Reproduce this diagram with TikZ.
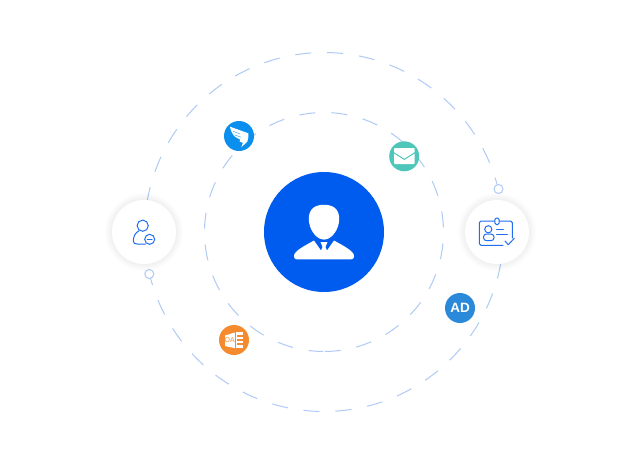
\documentclass[tikz,border=0pt]{standalone}
\usepackage{fontspec}
\setmainfont{Liberation Sans}
\definecolor{ringc}{HTML}{AFCAF6}
\definecolor{coreblue}{HTML}{005CEE}
\definecolor{lineblue}{HTML}{1F6EF2}
\definecolor{dingc}{HTML}{0A8FEE}
\definecolor{mailc}{HTML}{4EC6BA}
\definecolor{officec}{HTML}{F58B2E}
\definecolor{adc}{HTML}{2A8AD9}
\tikzset{
  ring/.style={draw=ringc,line width=1pt,dash pattern=on 16pt off 15.95pt},
  dotc/.style={draw=ringc,line width=1pt,fill=white,circle,minimum size=9pt,inner sep=0pt},
  holder/.style={circle,fill=white,minimum size=64pt,inner sep=0pt},
  badge/.style={circle,minimum size=30pt,inner sep=0pt},
  glyph/.style={draw=lineblue,line width=1pt,line cap=round,line join=round},
}
\begin{document}
\begin{tikzpicture}[x=1pt,y=-1pt]
\useasboundingbox (0,0) rectangle (640,464);
\fill[white] (0,0) rectangle (640,464);
% rings
\draw[ring] plot[domain=-89.7:269.5,samples=361,variable=\a] ({324+119.5*cos(\a)},{232-119.5*sin(\a)});
\draw[ring] plot[domain=170.6:14,samples=200,variable=\a] ({324+179.5*cos(\a)},{232-179.5*sin(\a)});
\draw[ring] plot[domain=-9.85:-166.5,samples=200,variable=\a] ({324+179.5*cos(\a)},{232-179.5*sin(\a)});
\node[dotc] (dotr) at (498.5,189) {};
\node[dotc] (dotl) at (149.3,274) {};
% soft shadows
\foreach \r in {39,38,37,36,35,34,33}{
  \fill[black,opacity=0.007] (144,232) circle[radius=\r];
  \fill[black,opacity=0.007] (497,232) circle[radius=\r];
}
\node[holder] (left) at (144,232) {};
\node[holder] (right) at (497,232) {};
% centre
\node[circle,fill=coreblue,minimum size=120pt,inner sep=0pt] (core) at (324,232) {};
\fill[white] (324,204.8) .. controls (334,204.8) and (339.2,209.5) .. (339.2,219)
  .. controls (339.2,229) and (332,239.6) .. (324,239.6)
  .. controls (316,239.6) and (308.8,229) .. (308.8,219)
  .. controls (308.8,209.5) and (314,204.8) .. (324,204.8) -- cycle;
\fill[white] (297,259.4) .. controls (293.5,259.4) and (293,255) .. (295.5,252.5)
  .. controls (298,249.5) and (303,246.5) .. (314,240.5)
  -- (321,250.5) -- (322.5,247) -- (320.5,242) -- (327.5,242) -- (325.5,247) -- (327,250.5) -- (334,240.5)
  .. controls (345,246.5) and (350,249.5) .. (352.5,252.5)
  .. controls (355,255) and (354.5,259.4) .. (351,259.4) -- cycle;
% left icon
\draw[glyph] (142.7,225.7) circle[radius=5.6];
\draw[glyph] (139,230.8) .. controls (135.5,232.5) and (133.3,236.5) .. (133.3,241)
  .. controls (133.3,243.2) and (135,244) .. (137,244) -- (145.5,244);
\draw[glyph] (149.7,239.3) circle[radius=5];
\draw[glyph] (147.3,239.3) -- (152.1,239.3);
% right icon
\draw[glyph] (503,245.3) -- (481,245.3) .. controls (480,245.3) and (479.3,244.6) .. (479.3,243.6)
  -- (479.3,222.6) .. controls (479.3,221.6) and (480,221) .. (481,221) -- (494.7,221);
\draw[glyph] (499.3,221) -- (510.6,221) .. controls (511.6,221) and (512.3,221.6) .. (512.3,222.6) -- (512.3,238);
\draw[glyph,rounded corners=1.5pt] (494.9,218) rectangle (499.1,224.6);
\draw[glyph] (488.3,229.3) circle[radius=3.6];
\draw[glyph,rounded corners=3pt] (483.5,240.7) rectangle (494,234);
\draw[glyph] (496.7,229.3) -- (503.3,229.3);
\draw[glyph] (496.7,234) -- (507.3,234);
\draw[glyph] (505,241) -- (508.3,244.7) -- (514.3,238.3);
% dingtalk
\node[badge,fill=dingc] (ding) at (239,136) {};
\fill[white] (230,126.7) -- (248.3,133.3) .. controls (248.6,136) and (248.2,139) .. (247.4,141.5)
  -- (245,142) -- (247,141.8) -- (241.4,147.3) -- (242.8,142.8) -- (239.5,141.5) -- (240.3,139.5)
  .. controls (236.5,138) and (233.5,136) .. (232.5,133.5) .. controls (231,131.5) and (230.3,129) .. (230,126.7) -- cycle;
\draw[dingc,line width=0.35pt] (233,131.2) -- (240,134);
\draw[dingc,line width=0.35pt] (234.5,134.8) -- (241,137.2);
% mail
\node[badge,fill=mailc] (mail) at (404.2,156.3) {};
\fill[white,rounded corners=0.8pt] (394,148) rectangle (414.6,164);
\draw[mailc,line width=1pt] (393.6,152.6) -- (404.3,159.4) -- (415,152.6);
\fill[mailc] (393.6,147.6) -- (394.6,147.6) -- (394.2,148.6) -- cycle;
% office
\node[badge,fill=officec] (office) at (234,340) {};
\fill[white] (225,335.5) -- (234.8,332.5) -- (234.8,348.2) -- (225,346) -- cycle;
\node[text=officec,font=\fontsize{7}{7}\selectfont,inner sep=0pt] (oa) at (229.7,340.3) {OA};
\fill[white] (235.6,331.7) rectangle (243,348.3);
\fill[officec] (237.2,335.2) rectangle (243,336.6);
\fill[officec] (237.2,339.2) rectangle (243,340.6);
\fill[officec] (237.2,343.2) rectangle (243,344.6);
% AD
\node[badge,fill=adc,text=white,font=\bfseries\fontsize{13.5}{13.5}\selectfont] (ad) at (460,308) {AD};
\end{tikzpicture}
\end{document}
